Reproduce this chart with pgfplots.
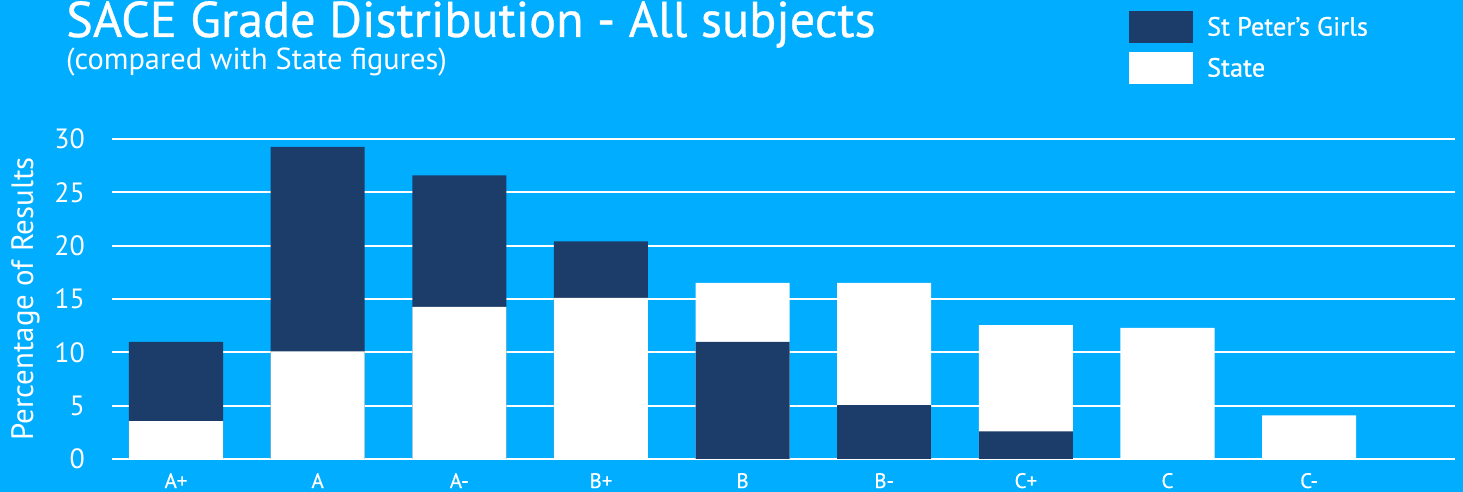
\documentclass[border=0pt]{standalone}
\usepackage{pgfplots}
\pgfplotsset{compat=1.18}
\usepackage{fontspec}
\setmainfont{PT Sans}
\newfontfamily\medfont[FakeBold=0.6]{PT Sans}
\definecolor{bg}{HTML}{00ADFF}
\definecolor{navy}{HTML}{1C3D6A}
\begin{document}
\begin{tikzpicture}
\fill[bg] (0bp,0bp) rectangle (1463bp,492bp);
\node[anchor=base west, inner sep=0pt, text=white, font=\medfont\fontsize{50.5}{50}\selectfont] at (66bp,455bp) {SACE Grade Distribution - All subjects};
\node[anchor=base west, inner sep=0pt, text=white, font=\fontsize{30.5}{30}\selectfont] at (66bp,422bp) {(compared with State figures)};
\begin{axis}[
  at={(112bp,33bp)}, anchor=south west,
  scale only axis, width=1343bp, height=320bp,
  xmin=-0.452, xmax=9.03, ymin=0, ymax=30,
  axis line style={draw=none}, tick style={draw=none},
  ytick={0,5,...,30}, ymajorgrids, grid style={white, line width=2bp},
  xtick={0,...,8}, xticklabels={A+,A,A-,B+,B,B-,C+,C,C-},
  /pgf/number format/assume math mode=true,
  tick label style={text=white},
  yticklabel style={font=\fontsize{28}{28}\selectfont, inner sep=0pt, anchor=east, xshift=-27bp},
  xticklabel style={font=\medfont\fontsize{21}{21}\selectfont, inner sep=0pt, anchor=base, yshift=-29bp},
  ylabel={Percentage of Results},
  every axis y label/.style={at={(axis description cs:-0.0588,0.5)}, rotate=90, anchor=base, text=white, inner sep=0pt, font=\fontsize{31}{31}\selectfont},
  legend style={at={(axis description cs:0.7573,1.4)}, anchor=north west, draw=none, fill=none, inner sep=0pt, outer sep=0pt, font=\medfont\fontsize{26.5}{26.5}\selectfont, text=white, row sep=9bp, nodes={inner sep=0pt}, /tikz/every odd column/.append style={column sep=14bp}},
  legend cell align=left,
  legend image code/.code={\fill[#1] (0bp,-16bp) rectangle (64bp,16bp);},
]
\addplot[ybar, bar width=0.664, bar shift=0pt, fill=navy, draw=none] coordinates {(0,10.97)(1,29.25)(2,26.6)(3,20.4)};
\addlegendentry{St Peter’s Girls}
\addplot[ybar, bar width=0.664, bar shift=0pt, fill=white, draw=none] coordinates {(0,3.56)(1,10.1)(2,14.25)(3,15.1)(4,16.5)(5,16.5)(6,12.56)(7,12.3)(8,4.1)};
\addlegendentry{State}
\addplot[ybar, bar width=0.664, bar shift=0pt, fill=navy, draw=none, forget plot] coordinates {(4,10.97)(5,5.06)(6,2.6)};
\end{axis}
\pgfresetboundingbox
\path (0bp,0bp) rectangle (1463bp,492bp);
\end{tikzpicture}
\end{document}
